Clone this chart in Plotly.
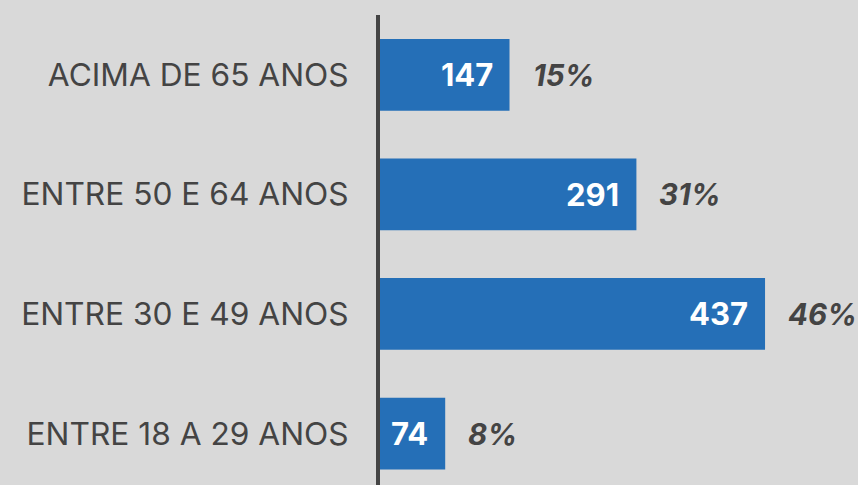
import plotly.graph_objects as go

categories = ['ENTRE 18 A 29 ANOS', 'ENTRE 30 E 49 ANOS', 'ENTRE 50 E 64 ANOS', 'ACIMA DE 65 ANOS']
counts = [74, 437, 291, 147]
shares = ['8%', '46%', '31%', '15%']

BG = '#d9d9d9'
BLUE = '#256fb7'
DARK = '#444444'
FONT = 'Inter'

fig = go.Figure(go.Bar(
    y=categories, x=counts, orientation='h',
    marker_color=BLUE, marker_line_width=0,
    hoverinfo='skip',
))

# value inside the bar end, share just past it
for cat, n, s in zip(categories, counts, shares):
    fig.add_annotation(x=n, y=cat, text=f'<b>{n}</b>', showarrow=False,
                       xanchor='right', xshift=-15,
                       font=dict(family=FONT, size=31, color='white'))
    fig.add_annotation(x=n, y=cat, text=f'<b><i>{s}</i></b>', showarrow=False,
                       xanchor='left', xshift=21,
                       font=dict(family=FONT, size=29.5, color=DARK))

fig.update_layout(
    width=858, height=485,
    margin=dict(l=380, r=0, t=15, b=0),
    paper_bgcolor=BG, plot_bgcolor=BG,
    bargap=0.4, showlegend=False,
    font=dict(family=FONT, color=DARK, size=30),
    xaxis=dict(range=[0, 542.5], visible=False),
    yaxis=dict(range=[-0.43, 3.5], showline=True, linecolor=DARK, linewidth=4,
               ticks='outside', ticklen=21, tickcolor='rgba(0,0,0,0)',
               showgrid=False, tickfont=dict(family=FONT, size=31.7, color=DARK)),
)

fig.write_html('out.html', config={'displayModeBar': False},
               post_script="document.body.style.margin='0';")
